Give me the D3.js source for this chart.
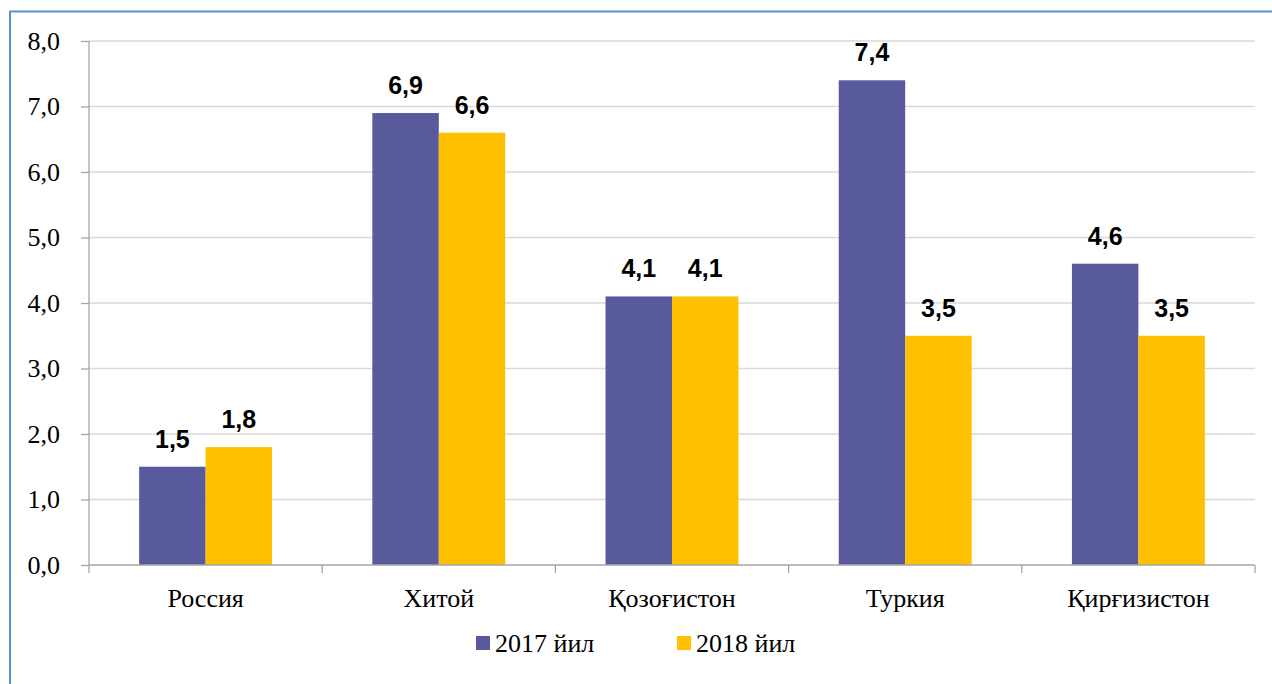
<!DOCTYPE html>
<html><head><meta charset="utf-8">
<script src="https://cdn.jsdelivr.net/npm/d3@7"></script>
<style>body{margin:0;background:#fff}svg{display:block}
.serif{font-family:"Liberation Serif","Times New Roman",serif}
.sans{font-family:"Liberation Sans",Arial,sans-serif}
</style>
</head><body>
<script>
const categories = ["Россия","Хитой","Қозоғистон","Туркия","Қирғизистон"];
const series2017 = [1.5, 6.9, 4.1, 7.4, 4.6];
const series2018 = [1.8, 6.6, 4.1, 3.5, 3.5];
const seriesNames = ["2017 йил","2018 йил"];
const colors = ["#585A9C","#FFC000"];
const yTicks = [0,1,2,3,4,5,6,7,8];

const W=1272,H=684;
const svg=d3.select("body").append("svg").attr("width",W).attr("height",H);
svg.append("rect").attr("width",W).attr("height",H).attr("fill","#fff");
svg.append("path").attr("d",`M10,${H+2} V11.5 H${W+2}`).attr("fill","none").attr("stroke","#5B8FD6").attr("stroke-width",2);

const L=89,R=1255,T=41,B=565;
const x=d3.scaleBand().domain(categories).range([L,R]).paddingInner(0.43).paddingOuter(0.215);
const y=d3.scaleLinear().domain([0,8]).range([B,T]);
const xs=d3.scaleBand().domain([0,1]).range([0,x.bandwidth()]);
const fmt=d=>d3.format(".1f")(d).replace(".",",");

svg.append("g").selectAll("line").data(yTicks.slice(1)).join("line")
 .attr("x1",L).attr("x2",R).attr("y1",d=>y(d)).attr("y2",d=>y(d))
 .attr("stroke","#D9D9D9").attr("stroke-width",1.3);

const data=[series2017,series2018];
const gb=svg.append("g");
categories.forEach((c,i)=>{
  data.forEach((s,j)=>{
    gb.append("rect").attr("x",x(c)+xs(j)).attr("width",xs.bandwidth())
      .attr("y",y(s[i])).attr("height",B-y(s[i])).attr("fill",colors[j]);
    gb.append("text").attr("class","sans").attr("x",x(c)+xs(j)+xs.bandwidth()/2).attr("y",y(s[i])-19)
      .attr("text-anchor","middle").style("font-weight","bold").style("font-size","25px").attr("fill","#000")
      .text(fmt(s[i]));
  });
});

const ya=svg.append("g").attr("transform",`translate(${L},0)`)
 .call(d3.axisLeft(y).tickValues(yTicks).tickSize(8).tickPadding(21).tickFormat(fmt));
ya.attr("font-family",null).attr("font-size",null);
ya.select(".domain").attr("stroke","#A6A6A6").attr("stroke-width",1.3).attr("d",`M0,${T}V${B}`);
ya.selectAll(".tick line").attr("stroke","#A6A6A6").attr("stroke-width",1.3);
ya.selectAll("text").attr("class","serif").style("font-size","26px").attr("fill","#000");

const bounds=d3.range(categories.length+1).map(i=>L+i*(R-L)/categories.length);
const xa=svg.append("g");
xa.append("line").attr("x1",L).attr("x2",R).attr("y1",B).attr("y2",B).attr("stroke","#A6A6A6").attr("stroke-width",1.3);
xa.selectAll("line.t").data(bounds).join("line").attr("class","t")
 .attr("x1",d=>d).attr("x2",d=>d).attr("y1",B).attr("y2",B+8).attr("stroke","#A6A6A6").attr("stroke-width",1.3);
xa.selectAll("text").data(categories).join("text").attr("class","serif")
 .attr("x",d=>x(d)+x.bandwidth()/2).attr("y",B+42).attr("text-anchor","middle")
 .style("font-size","26px").attr("fill","#000").text(d=>d);

const leg=[476,677];
seriesNames.forEach((n,j)=>{
  svg.append("rect").attr("x",leg[j]).attr("y",636).attr("width",14).attr("height",14).attr("fill",colors[j]);
  svg.append("text").attr("class","serif").attr("x",leg[j]+19).attr("y",652)
   .style("font-size","26px").attr("fill","#000").text(n);
});
</script>
</body></html>
